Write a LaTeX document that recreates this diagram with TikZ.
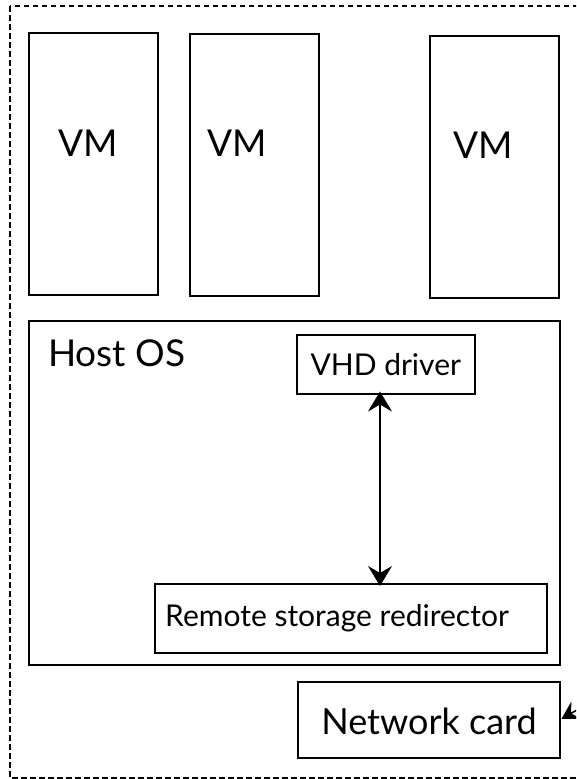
\documentclass[tikz,border=0pt]{standalone}
\usepackage{fontspec}
\setmainfont{Lato}
\usetikzlibrary{arrows.meta}
\begin{document}
\begin{tikzpicture}[x=1pt,y=-1pt,
  box/.style={draw, line width=1.5pt, rectangle, anchor=north west, inner sep=0pt},
  frame/.style={draw, line width=1.6pt, dash pattern=on 5.5pt off 3.5pt},
  txt/.style={inner sep=0pt, font=#1},
  link/.style={line width=1.5pt, {Stealth[length=20pt,width=24pt,inset=7pt]}-{Stealth[length=20pt,width=24pt,inset=7pt]}},
  feed/.style={line width=1.5pt, -{Stealth[length=17pt,width=20pt,inset=6pt]}}]
  \useasboundingbox (0,0) rectangle (576,779);
  \clip (0,0) rectangle (576,779);
  % dashed enclosure (runs on past the right edge)
  \draw[frame] (10,6) rectangle (620,778);
  % virtual machines
  \node[box, minimum width=129pt, minimum height=262pt] (vm1) at (28,32) {};
  \node[box, minimum width=129pt, minimum height=262pt] (vm2) at (189,33) {};
  \node[box, minimum width=129pt, minimum height=262pt] (vm3) at (429,35) {};
  \node[txt=\fontsize{37}{40}\selectfont] (vm1t) at (88,143) {VM};
  \node[txt=\fontsize{37}{40}\selectfont] (vm2t) at (237,143) {VM};
  \node[txt=\fontsize{37}{40}\selectfont] (vm3t) at (483,145) {VM};
  % host operating system
  \node[box, minimum width=531pt, minimum height=344pt] (host) at (28,320) {};
  \node[txt=\fontsize{37}{40}\selectfont, anchor=base west] (hostt) at (48,366) {Host OS};
  \node[box, minimum width=178pt, minimum height=59pt] (vhd) at (296,334) {};
  \node[txt=\fontsize{30}{34}\selectfont] (vhdt) at (vhd.center) {VHD driver};
  \node[box, minimum width=392pt, minimum height=69pt] (rsr) at (154,583) {};
  \node[txt=\fontsize{30}{34}\selectfont, anchor=base west] (rsrt) at (165,626) {Remote storage redirector};
  % network card
  \node[box, minimum width=262pt, minimum height=76pt] (nic) at (297,681) {};
  \node[txt=\fontsize{36}{40}\selectfont, anchor=base] (nict) at (429,734) {Network card};
  % connectors
  \coordinate (ax) at (380,0);
  \draw[link] ([yshift=3pt]vhd.south -| ax) -- ([yshift=-3pt]rsr.north -| ax);
  \coordinate (ext) at (605,694);
  \draw[feed] (ext) -- ([xshift=1pt,yshift=1pt]nic.east);
\end{tikzpicture}
\end{document}
